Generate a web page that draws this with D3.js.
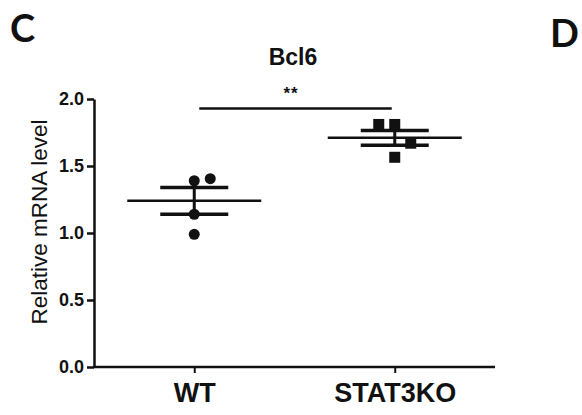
<!DOCTYPE html>
<html>
<head>
<meta charset="utf-8">
<script src="https://cdn.jsdelivr.net/npm/d3@7"></script>
<style>
  body { margin: 0; background: #fff; }
  svg text { fill: #111; }
</style>
</head>
<body>
<div id="chart"></div>
<script>
const width = 582;
const height = 415;

// datos
const groups = ["WT", "STAT3KO"];
const wtValues = [1.39, 1.405, 1.14, 0.99];
const wtSlots = [0, 1, 0, 0];
const koValues = [1.81, 1.81, 1.67, 1.565];
const koSlots = [-1, 0, 1, 0];
const means = [1.24, 1.71];
const sems = [0.10, 0.055];
const yTicks = [0, 0.5, 1.0, 1.5, 2.0];
const sigLevel = 1.93;
const sigLabel = "**";

const svg = d3.select("#chart")
    .append("svg")
    .attr("width", width)
    .attr("height", height)
    .attr("viewBox", `0 0 ${width} ${height}`);

const x = d3.scalePoint()
    .domain(groups)
    .range([94, 495])
    .padding(0.5);

const y = d3.scaleLinear()
    .domain([0, 2])
    .range([367, 99]);

const font = "'Liberation Sans', Arial, sans-serif";

// eje Y
const yAxis = svg.append("g")
    .attr("transform", "translate(94,0)")
    .call(d3.axisLeft(y).tickValues(yTicks).tickFormat(d3.format(".1f")).tickSize(7).tickSizeOuter(0));
yAxis.select(".domain").attr("stroke", "#111").attr("stroke-width", 2.5);
yAxis.selectAll(".tick line").attr("stroke", "#111").attr("stroke-width", 2.5);
yAxis.selectAll(".tick text")
    .attr("x", -10)
    .attr("font-family", font)
    .attr("font-size", 18)
    .attr("font-weight", "bold")
    .attr("fill", "#111");

// eje X
const xAxis = svg.append("g")
    .attr("transform", "translate(0,367)")
    .call(d3.axisBottom(x).tickSize(6).tickSizeOuter(0));
xAxis.select(".domain").attr("stroke", "#111").attr("stroke-width", 2.5)
    .attr("d", "M93,0H495");
xAxis.selectAll(".tick line").attr("stroke", "#111").attr("stroke-width", 2);
xAxis.selectAll(".tick text")
    .attr("y", 16)
    .attr("font-family", font)
    .attr("font-size", 27)
    .attr("font-weight", "bold")
    .attr("fill", "#111");

// título eje Y
svg.append("text")
    .attr("transform", "translate(47,222) rotate(-90)")
    .attr("text-anchor", "middle")
    .attr("font-family", font)
    .attr("font-size", 22.5)
    .text("Relative mRNA level");

// título
svg.append("text")
    .attr("x", 293)
    .attr("y", 65)
    .attr("text-anchor", "middle")
    .attr("font-family", font)
    .attr("font-size", 23)
    .attr("font-weight", "bold")
    .text("Bcl6");

// letras de panel
svg.append("text")
    .attr("x", 10)
    .attr("y", 42)
    .attr("font-family", "Lato, 'Open Sans', sans-serif")
    .attr("font-size", 38)
    .attr("font-weight", "bold")
    .text("C");
svg.append("text")
    .attr("x", 550)
    .attr("y", 47)
    .attr("font-family", "Lato, 'Open Sans', sans-serif")
    .attr("font-size", 38)
    .attr("font-weight", "bold")
    .text("D");

// media y SEM
const stats = groups.map((g, i) => ({ g, mean: means[i], sem: sems[i] }));
const bars = svg.append("g").attr("stroke", "#111");
stats.forEach(s => {
    const cx = x(s.g);
    bars.append("line")
        .attr("x1", cx - 67).attr("x2", cx + 67)
        .attr("y1", y(s.mean)).attr("y2", y(s.mean))
        .attr("stroke-width", 2.5);
    [s.mean - s.sem, s.mean + s.sem].forEach(v => {
        bars.append("line")
            .attr("x1", cx - 34).attr("x2", cx + 34)
            .attr("y1", y(v)).attr("y2", y(v))
            .attr("stroke-width", 3.5);
    });
    bars.append("line")
        .attr("x1", cx).attr("x2", cx)
        .attr("y1", y(s.mean - s.sem)).attr("y2", y(s.mean + s.sem))
        .attr("stroke-width", 3);
});

// puntos
const slotGap = 16;
svg.append("g").selectAll("circle")
    .data(wtValues.map((v, i) => ({ v, s: wtSlots[i] })))
    .enter()
    .append("circle")
    .attr("cx", d => x("WT") + d.s * slotGap)
    .attr("cy", d => y(d.v))
    .attr("r", 5.5)
    .attr("fill", "#111");

const sq = 11;
svg.append("g").selectAll("rect")
    .data(koValues.map((v, i) => ({ v, s: koSlots[i] })))
    .enter()
    .append("rect")
    .attr("x", d => x("STAT3KO") + d.s * slotGap - sq / 2)
    .attr("y", d => y(d.v) - sq / 2)
    .attr("width", sq)
    .attr("height", sq)
    .attr("fill", "#111");

// significancia
svg.append("line")
    .attr("x1", x("WT") + 5).attr("x2", x("STAT3KO") - 3)
    .attr("y1", y(sigLevel)).attr("y2", y(sigLevel))
    .attr("stroke", "#111")
    .attr("stroke-width", 2.5);
svg.append("text")
    .attr("x", 291)
    .attr("y", 99)
    .attr("text-anchor", "middle")
    .attr("font-family", font)
    .attr("font-size", 17)
    .attr("font-weight", "bold")
    .attr("letter-spacing", 1)
    .text(sigLabel);
</script>
</body>
</html>
